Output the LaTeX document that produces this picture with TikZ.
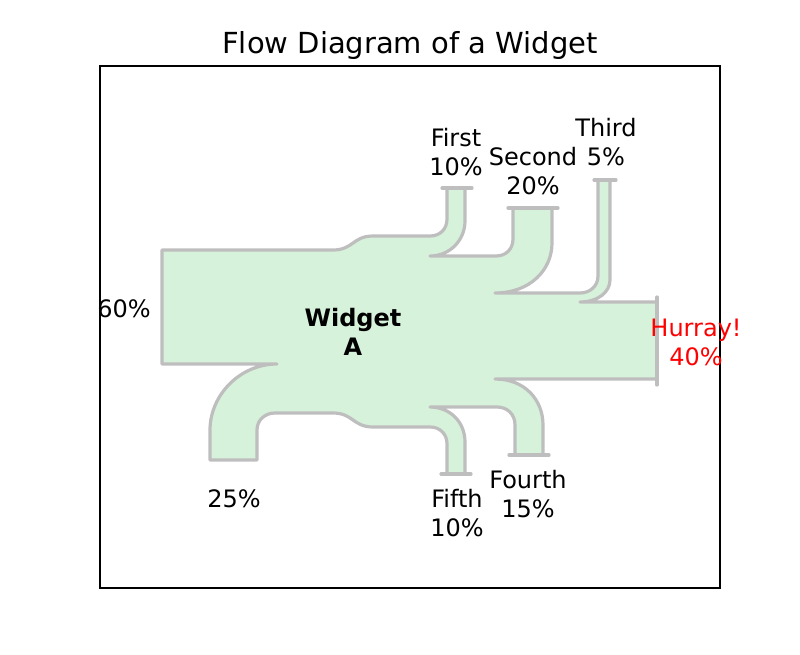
\documentclass[tikz,border=0pt]{standalone}
\usepackage{fontspec}
\setmainfont{DejaVu Sans}
\begin{document}
\begin{tikzpicture}[x=1pt,y=-1pt,
  flow/.style={fill=flowfill,draw=flowline,line width=3.2pt,line join=round},
  flange/.style={draw=flowline,line width=3.2pt,line cap=round},
  lbl/.style={font=\fontsize{24}{29}\selectfont,align=center}]
\definecolor{flowfill}{RGB}{214,242,219}
\definecolor{flowline}{RGB}{190,190,190}
\useasboundingbox (0,0) rectangle (800,654);
\draw[line width=1.6pt] (100,66) rectangle (720,588);
\node[font=\fontsize{29}{33}\selectfont] (title) at (410,45) {Flow Diagram of a Widget};
\path[flow] (162,250) -- (333,250) .. controls (353,250) and (353,236) .. (373,236) -- (430,236)
 .. controls (440,236) and (447,229) .. (447,219) -- (447,188) -- (465,188) -- (465,221)
 .. controls (465,240) and (450,256) .. (430,256) -- (496,256)
 .. controls (506,256) and (513,249) .. (513,239) -- (513,208) -- (552,208) -- (552,243)
 .. controls (552,270) and (530,293) .. (495,293) -- (580,293)
 .. controls (590,293) and (598,286) .. (598,276) -- (598,180) -- (610,180) -- (610,280)
 .. controls (610,292) and (598,302) .. (580,302) -- (657,302) -- (657,379) -- (495,379)
 .. controls (525,379) and (543,400) .. (543,425) -- (543,455) -- (515,455) -- (515,425)
 .. controls (515,414) and (507,407) .. (497,407) -- (430,407)
 .. controls (450,407) and (465,422) .. (465,442) -- (465,474) -- (447,474) -- (447,444)
 .. controls (447,434) and (440,427) .. (430,427) -- (373,427)
 .. controls (353,427) and (353,413) .. (333,413) -- (275,413)
 .. controls (265,413) and (257,420) .. (257,430) -- (257,460) -- (210,460) -- (210,430)
 .. controls (210,395) and (240,364) .. (277,364) -- (162,364) -- cycle;
\draw[flange] (442,188) -- (472,188);
\draw[flange] (508,208) -- (558,208);
\draw[flange] (594,180) -- (616,180);
\draw[flange] (657,297) -- (657,385);
\draw[flange] (509,455) -- (549,455);
\draw[flange] (441,474) -- (471,474);
\node[lbl] (in) at (124,309) {60\%};
\node[lbl,font=\fontsize{24}{29}\selectfont\bfseries] (w) at (353,332) {Widget\\A};
\node[lbl] (f1) at (456,152) {First\\10\%};
\node[lbl] (f2) at (533,171) {Second\\20\%};
\node[lbl] (f3) at (606,142) {Third\\5\%};
\node[lbl,text=red] (out) at (696,342) {Hurray!\\40\%};
\node[lbl] (f4) at (528,494) {Fourth\\15\%};
\node[lbl] (f5) at (457,513) {Fifth\\10\%};
\node[lbl] (f6) at (234,499) {25\%};
\end{tikzpicture}
\end{document}
